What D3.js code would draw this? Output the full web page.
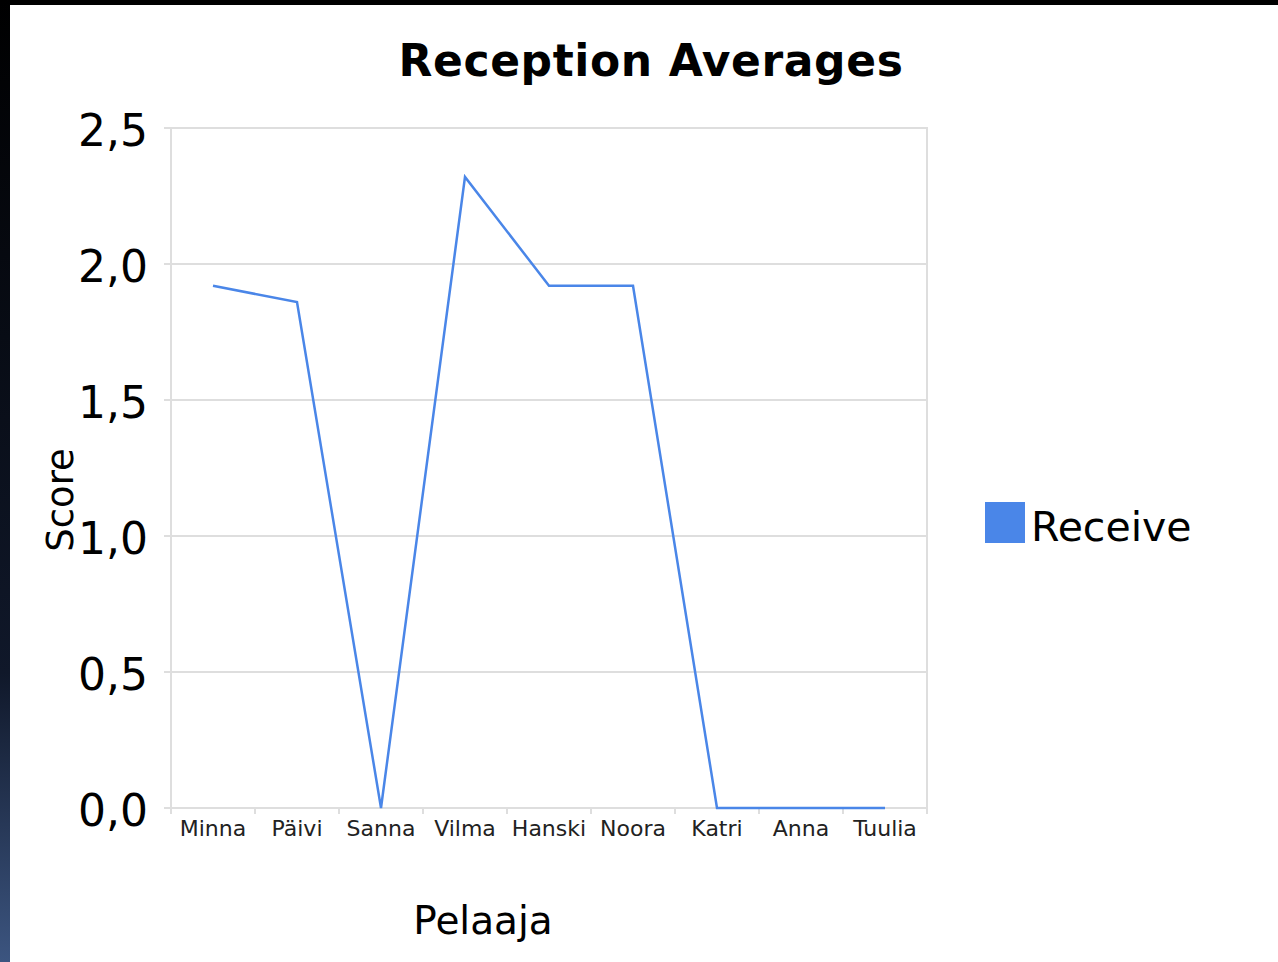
<!DOCTYPE html>
<html>
<head>
<meta charset="utf-8">
<style>
    body { margin: 0; background: #000; }
    svg { display: block; }
    text { font-family: 'DejaVu Sans', sans-serif; fill: #000; }
</style>
</head>
<body>
<svg width="1278" height="962"></svg>
<script src="https://d3js.org/d3.v7.min.js"></script>
<script>
    // data
    let players = ["Minna", "Päivi", "Sanna", "Vilma", "Hanski", "Noora", "Katri", "Anna", "Tuulia"]
    let receive = [1.92, 1.86, 0, 2.32, 1.92, 1.92, 0, 0, 0]
    let yTicks = [0, 0.5, 1, 1.5, 2, 2.5]

    let svg = d3.select("svg")

    // backdrop: dark frame with a bluish fade at the left
    let defs = svg.append("defs")
    let grad = defs.append("linearGradient")
        .attr("id", "side").attr("x1", 0).attr("y1", 0).attr("x2", 0).attr("y2", 1)
    grad.append("stop").attr("offset", "0%").attr("stop-color", "#000")
    grad.append("stop").attr("offset", "70%").attr("stop-color", "#10182a")
    grad.append("stop").attr("offset", "100%").attr("stop-color", "#3c5580")
    svg.append("rect").attr("width", 1278).attr("height", 962).attr("fill", "#000")
    svg.append("rect").attr("x", 0).attr("y", 0).attr("width", 10).attr("height", 962).attr("fill", "url(#side)")
    svg.append("rect").attr("x", 10).attr("y", 5).attr("width", 1268).attr("height", 957).attr("fill", "#fff")

    let plotL = 171, plotR = 927, plotT = 128, plotB = 808

    let x = d3.scaleBand().domain(players).range([plotL, plotR])
    let y = d3.scaleLinear().domain([0, 2.5]).range([plotB, plotT])

    // gridlines
    svg.append("g")
        .selectAll("line")
        .data(yTicks)
        .join("line")
        .attr("x1", plotL - 7).attr("x2", plotR)
        .attr("y1", d => y(d)).attr("y2", d => y(d))
        .style("stroke", "#dedede")
        .style("stroke-width", 2)

    // plot frame
    svg.append("rect")
        .attr("x", plotL).attr("y", plotT)
        .attr("width", plotR - plotL).attr("height", plotB - plotT)
        .style("fill", "none")
        .style("stroke", "#dedede")
        .style("stroke-width", 2)

    // x ticks at band edges
    let edges = players.map(p => x(p)).concat([plotR])
    svg.append("g")
        .selectAll("line")
        .data(edges)
        .join("line")
        .attr("x1", d => d).attr("x2", d => d)
        .attr("y1", plotB).attr("y2", plotB + 6)
        .style("stroke", "#dedede")
        .style("stroke-width", 2)

    // y tick labels
    svg.append("g")
        .selectAll("text")
        .data(yTicks)
        .join("text")
        .attr("x", 148)
        .attr("y", d => y(d) + 18)
        .attr("text-anchor", "end")
        .style("font-size", "44px")
        .text(d => d3.format(".1f")(d).replace(".", ","))

    // x tick labels
    svg.append("g")
        .selectAll("text")
        .data(players)
        .join("text")
        .attr("x", d => x(d) + x.bandwidth() / 2)
        .attr("y", plotB + 28)
        .attr("text-anchor", "middle")
        .style("font-size", "22px")
        .style("fill", "#222")
        .text(d => d)

    // line
    let line = d3.line()
        .x((d, i) => x(players[i]) + x.bandwidth() / 2)
        .y(d => y(d))
    svg.append("path")
        .datum(receive)
        .attr("d", line)
        .style("fill", "none")
        .style("stroke", "#4a86e8")
        .style("stroke-width", 2.5)

    // titles
    svg.append("text")
        .attr("x", 651).attr("y", 76)
        .attr("text-anchor", "middle")
        .style("font-size", "44px")
        .style("font-weight", "bold")
        .style("letter-spacing", "0.6px")
        .text("Reception Averages")

    svg.append("text")
        .attr("x", 483).attr("y", 934)
        .attr("text-anchor", "middle")
        .style("font-size", "39px")
        .text("Pelaaja")

    svg.append("text")
        .attr("transform", "translate(73,500) rotate(-90)")
        .attr("text-anchor", "middle")
        .style("font-size", "37px")
        .text("Score")

    // legend
    svg.append("rect")
        .attr("x", 985).attr("y", 502)
        .attr("width", 40).attr("height", 41)
        .style("fill", "#4a86e8")
    svg.append("text")
        .attr("x", 1031).attr("y", 541)
        .style("font-size", "41px")
        .text("Receive")
</script>
</body>
</html>
